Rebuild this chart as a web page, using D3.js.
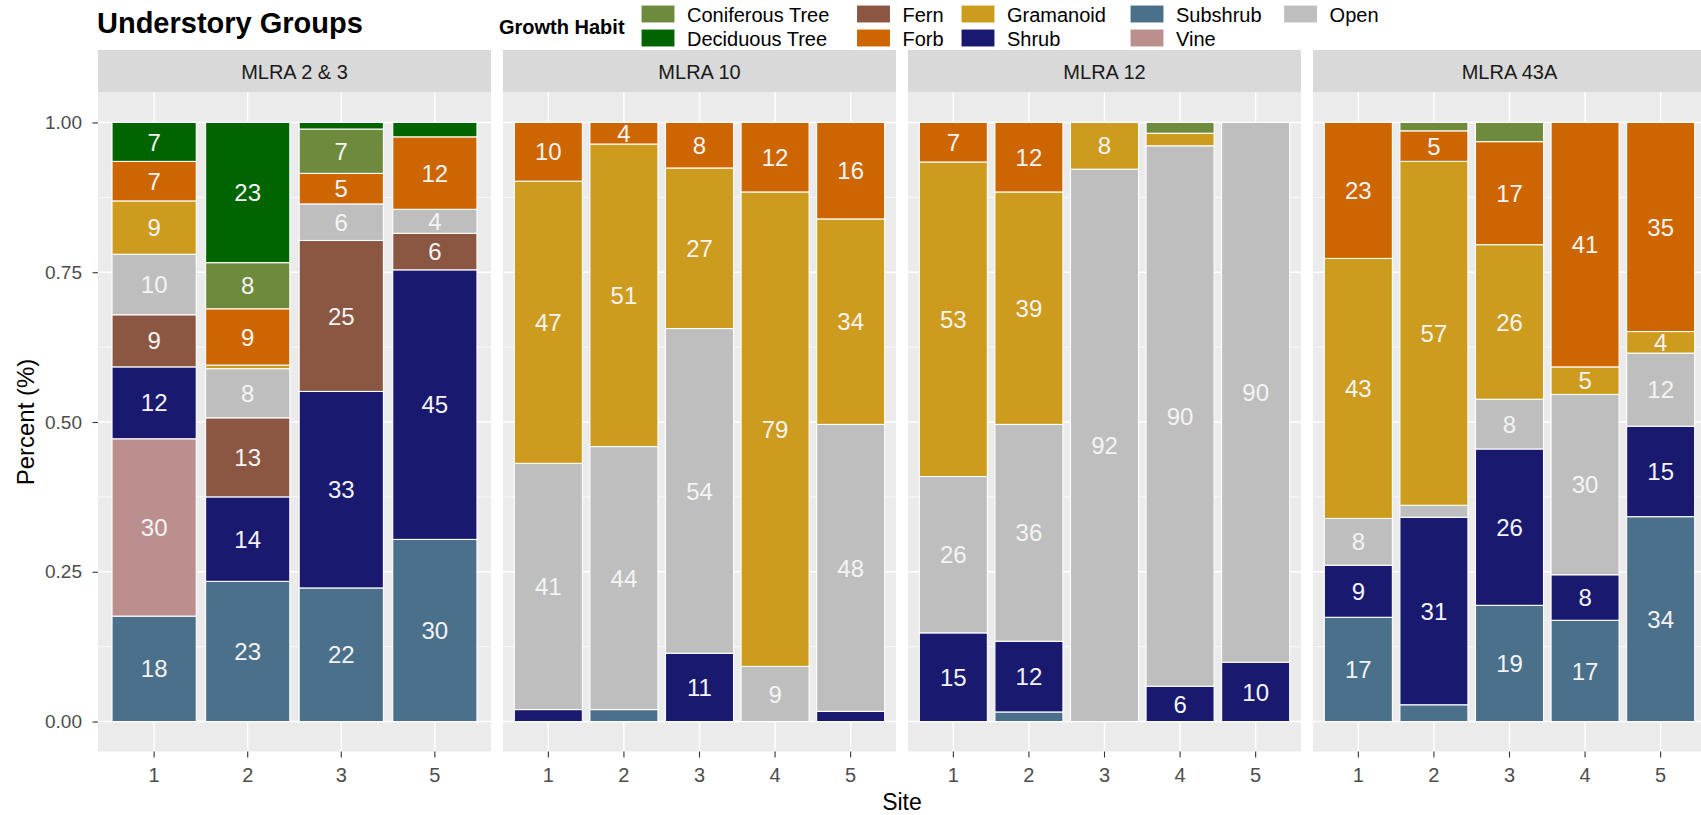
<!DOCTYPE html>
<html>
<head>
<meta charset="utf-8">
<script src="https://cdn.jsdelivr.net/npm/d3@7"></script>
<style>
  html, body { margin: 0; padding: 0; background: #ffffff; }
  svg { display: block; font-family: "Liberation Sans", Arial, sans-serif; }
</style>
</head>
<body>
<svg id="chart" width="1701" height="815"></svg>
<script>
// Facets (MLRA regions) and the sites sampled in each
const panels = ["MLRA 2 & 3", "MLRA 10", "MLRA 12", "MLRA 43A"];
const sitesByPanel = [
  ["1", "2", "3", "5"],
  ["1", "2", "3", "4", "5"],
  ["1", "2", "3", "4", "5"],
  ["1", "2", "3", "4", "5"]
];

// Growth habits in legend order, with their fills
const habits = ["Coniferous Tree", "Deciduous Tree", "Fern", "Forb", "Gramanoid",
                "Shrub", "Subshrub", "Vine", "Open"];
const habitColors = ["#6E8B3D", "#006400", "#8B5742", "#CD6600", "#CD9B1D",
                     "#191970", "#4A708B", "#BC8F8F", "#BEBEBE"];

// Stacking order, bottom to top
const stackOrder = ["Subshrub", "Vine", "Shrub", "Fern", "Open", "Gramanoid",
                    "Forb", "Coniferous Tree", "Deciduous Tree"];

// Percent cover per growth habit, one value per site of the facet
const coverMLRA2and3 = {
  "Subshrub":        [17.6, 23.4, 22.3, 30.4],
  "Vine":            [29.6,  0.0,  0.0,  0.0],
  "Shrub":           [12.0, 14.1, 32.8, 45.0],
  "Fern":            [ 8.7, 13.2, 25.2,  6.1],
  "Open":            [10.1,  8.2,  6.1,  4.0],
  "Gramanoid":       [ 8.9,  0.6,  0.0,  0.0],
  "Forb":            [ 6.6,  9.4,  5.1, 12.1],
  "Coniferous Tree": [ 0.0,  7.7,  7.4,  0.0],
  "Deciduous Tree":  [ 6.5, 23.4,  1.1,  2.4]
};
const coverMLRA10 = {
  "Subshrub":  [ 0.0,  2.0,  0.0,  0.0,  0.0],
  "Shrub":     [ 2.0,  0.0, 11.4,  0.0,  1.7],
  "Open":      [41.1, 43.9, 54.2,  9.2, 47.9],
  "Gramanoid": [47.1, 50.5, 26.8, 79.2, 34.3],
  "Forb":      [ 9.8,  3.6,  7.6, 11.6, 16.1]
};
const coverMLRA12 = {
  "Subshrub":        [ 0.0,  1.6,  0.0,  0.0,  0.0],
  "Shrub":           [14.8, 11.8,  0.0,  5.9,  9.9],
  "Open":            [26.1, 36.2, 92.2, 90.2, 90.1],
  "Gramanoid":       [52.5, 38.8,  7.8,  2.1,  0.0],
  "Forb":            [ 6.6, 11.6,  0.0,  0.0,  0.0],
  "Coniferous Tree": [ 0.0,  0.0,  0.0,  1.8,  0.0]
};
const coverMLRA43A = {
  "Subshrub":        [17.4,  2.8, 19.4, 16.9, 34.2],
  "Shrub":           [ 8.7, 31.3, 26.1,  7.6, 15.1],
  "Open":            [ 7.8,  2.0,  8.3, 30.1, 12.2],
  "Gramanoid":       [43.4, 57.4, 25.8,  4.6,  3.6],
  "Forb":            [22.7,  5.1, 17.2, 40.8, 34.9],
  "Coniferous Tree": [ 0.0,  1.4,  3.2,  0.0,  0.0]
};
const coverByPanel = [coverMLRA2and3, coverMLRA10, coverMLRA12, coverMLRA43A];

const yMajorTicks = [0, 0.25, 0.5, 0.75, 1];
const yMinorTicks = [0.125, 0.375, 0.625, 0.875];
const labelMin = 4;   // segments below this (rounded) carry no label

// ---- layout ----
const font = '"Liberation Sans", Arial, sans-serif';
const panelW = 393, panelGap = 12, panelX0 = 98;
const panelTop = 92.5, panelBottom = 751.5;
const stripTop = 50;

const svg = d3.select("#chart");
svg.append("rect").attr("width", 1701).attr("height", 815).attr("fill", "#ffffff");

const color = d3.scaleOrdinal().domain(habits).range(habitColors);
const y = d3.scaleLinear().domain([-0.05, 1.05]).range([panelBottom, panelTop]);

const stack = d3.stack().keys(stackOrder)
  .value((d, k) => d[k] || 0)
  .offset(d3.stackOffsetExpand);

panels.forEach((name, pi) => {
  const x0 = panelX0 + pi * (panelW + panelGap);
  const sites = sitesByPanel[pi];
  const cover = coverByPanel[pi];
  const rows = sites.map((s, i) => {
    const r = { site: s };
    stackOrder.forEach(k => { r[k] = cover[k] ? cover[k][i] : 0; });
    return r;
  });

  const x = d3.scaleBand().domain(sites).range([0, panelW])
    .paddingInner(0.1).paddingOuter(0.15);

  const g = svg.append("g").attr("transform", `translate(${x0},0)`);

  // strip
  g.append("rect").attr("x", 0).attr("y", stripTop)
    .attr("width", panelW).attr("height", panelTop - stripTop)
    .attr("fill", "#D9D9D9");
  g.append("text").attr("x", panelW / 2).attr("y", 79)
    .attr("text-anchor", "middle").attr("font-size", 20)
    .attr("fill", "#1A1A1A").text(name);

  // panel background and grid
  g.append("rect").attr("x", 0).attr("y", panelTop)
    .attr("width", panelW).attr("height", panelBottom - panelTop)
    .attr("fill", "#EBEBEB");
  g.selectAll("line.minor").data(yMinorTicks).join("line")
    .attr("x1", 0).attr("x2", panelW)
    .attr("y1", d => y(d)).attr("y2", d => y(d))
    .attr("stroke", "#ffffff").attr("stroke-width", 0.7);
  g.selectAll("line.major").data(yMajorTicks).join("line")
    .attr("x1", 0).attr("x2", panelW)
    .attr("y1", d => y(d)).attr("y2", d => y(d))
    .attr("stroke", "#ffffff").attr("stroke-width", 1.4);
  g.selectAll("line.vmajor").data(sites).join("line")
    .attr("x1", d => x(d) + x.bandwidth() / 2).attr("x2", d => x(d) + x.bandwidth() / 2)
    .attr("y1", panelTop).attr("y2", panelBottom)
    .attr("stroke", "#ffffff").attr("stroke-width", 1.4);

  // stacked, filled bars
  const series = stack(rows);
  const segs = [];
  series.forEach(s => {
    s.forEach((d, i) => {
      const v = rows[i][s.key];
      if (v > 0) segs.push({ key: s.key, site: rows[i].site, v, y0: d[0], y1: d[1] });
    });
  });

  g.selectAll("rect.seg").data(segs).join("rect")
    .attr("class", "seg")
    .attr("x", d => x(d.site))
    .attr("width", x.bandwidth())
    .attr("y", d => y(d.y1))
    .attr("height", d => y(d.y0) - y(d.y1))
    .attr("fill", d => color(d.key))
    .attr("stroke", "#ffffff").attr("stroke-width", 1.1);

  g.selectAll("text.lab").data(segs.filter(d => Math.round(d.v) >= labelMin)).join("text")
    .attr("class", "lab")
    .attr("x", d => x(d.site) + x.bandwidth() / 2)
    .attr("y", d => y((d.y0 + d.y1) / 2))
    .attr("dy", "0.36em")
    .attr("text-anchor", "middle")
    .attr("font-size", 24)
    .attr("fill", "#F4F4F4")
    .text(d => Math.round(d.v));

  // x axis
  const xa = g.append("g").attr("transform", `translate(0,${panelBottom})`)
    .call(d3.axisBottom(x).tickSize(6).tickPadding(10));
  xa.select(".domain").remove();
  xa.selectAll("line").attr("stroke", "#333333").attr("stroke-width", 1.1);
  xa.selectAll("text").attr("font-size", 20).attr("fill", "#4D4D4D").attr("font-family", font);

  // y axis on the first facet only
  if (pi === 0) {
    const ya = g.append("g")
      .call(d3.axisLeft(y).tickValues(yMajorTicks).tickFormat(d3.format(".2f"))
        .tickSize(5.5).tickPadding(10.5));
    ya.select(".domain").remove();
    ya.selectAll("line").attr("stroke", "#333333").attr("stroke-width", 1.1);
    ya.selectAll("text").attr("font-size", 19).attr("fill", "#4D4D4D").attr("font-family", font);
  }
});

// axis titles
svg.append("text").attr("x", panelX0 + (4 * panelW + 3 * panelGap) / 2).attr("y", 810)
  .attr("text-anchor", "middle").attr("font-size", 23).attr("fill", "#000000").text("Site");
svg.append("text").attr("transform", `translate(34,${(panelTop + panelBottom) / 2}) rotate(-90)`)
  .attr("text-anchor", "middle").attr("font-size", 24).attr("fill", "#000000").text("Percent (%)");

// title
svg.append("text").attr("x", 97).attr("y", 33)
  .attr("font-size", 29).attr("font-weight", "bold").attr("fill", "#000000")
  .text("Understory Groups");

// legend: two rows, filled column by column
svg.append("text").attr("x", 499).attr("y", 34)
  .attr("font-size", 20).attr("font-weight", "bold").attr("fill", "#000000")
  .text("Growth Habit");
const legendColX = [641, 856.5, 961, 1130, 1283.6];
const legendRowY = [5, 29];
const leg = svg.append("g").selectAll("g").data(habits).join("g")
  .attr("transform", (d, i) => `translate(${legendColX[Math.floor(i / 2)]},${legendRowY[i % 2]})`);
leg.append("rect").attr("width", 34).attr("height", 18)
  .attr("fill", d => color(d)).attr("stroke", "#ffffff").attr("stroke-width", 1.1);
leg.append("text").attr("x", 46).attr("y", 16.5)
  .attr("font-size", 20).attr("fill", "#000000").text(d => d);
</script>
</body>
</html>
